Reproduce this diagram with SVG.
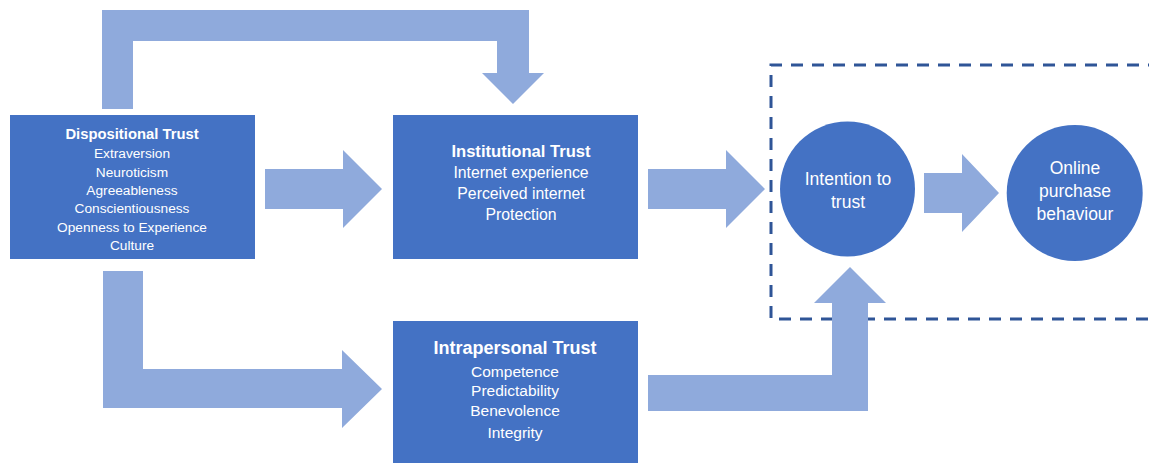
<svg xmlns="http://www.w3.org/2000/svg" width="1149" height="463" viewBox="0 0 1149 463">
<style>
.box{fill:#4472C4;}
.arr{fill:#8FAADC;}
.t{font-family:"Liberation Sans",Arial,sans-serif;fill:#FFFFFF;text-anchor:middle;}
.b{font-weight:bold;}
.dash{fill:none;stroke:#2F5597;stroke-width:3;stroke-dasharray:12 9;}
</style>
<rect width="1149" height="463" fill="#FFFFFF"/>
<g id="boundary">
<path class="dash" d="M1160,65 L771,65 L771,319 L1160,319"/>
</g>
<g id="connectors">
<polygon class="arr" points="102,109 102,10 529,10 529,73 544,73 513,104 482,73 497,73 497,41 133,41 133,109"/>
<polygon class="arr" points="103,271 143,271 143,369 342,369 342,350 382,389 342,428 342,408 103,408"/>
<polygon class="arr" points="265,169 343,169 343,150 382,189 343,228 343,209 265,209"/>
<polygon class="arr" points="648,169 726,169 726,150 765,189 726,228 726,209 648,209"/>
<polygon class="arr" points="924,173 962,173 962,154 999,193 962,232 962,213 924,213"/>
<polygon class="arr" points="648,375 832,375 832,303 814,303 850,267 886,303 868,303 868,411 648,411"/>
</g>
<g id="dispositional">
<rect class="box" x="10" y="115" width="245" height="144"/>
<text class="t b" x="132" y="139" font-size="14.8">Dispositional Trust</text>
<text class="t" x="132" y="158" font-size="13.7">Extraversion</text>
<text class="t" x="132" y="176.5" font-size="13.7">Neuroticism</text>
<text class="t" x="132" y="194.5" font-size="13.7">Agreeableness</text>
<text class="t" x="132" y="213" font-size="13.7">Conscientiousness</text>
<text class="t" x="132" y="231.5" font-size="13.7">Openness to Experience</text>
<text class="t" x="132" y="249.5" font-size="13.7">Culture</text>
</g>
<g id="institutional">
<rect class="box" x="393" y="115" width="245" height="144"/>
<text class="t b" x="521" y="157" font-size="16.6">Institutional Trust</text>
<text class="t" x="521" y="177.5" font-size="15.8">Internet experience</text>
<text class="t" x="521" y="198.5" font-size="15.8">Perceived internet</text>
<text class="t" x="521" y="219.5" font-size="15.8">Protection</text>
</g>
<g id="intrapersonal">
<rect class="box" x="393" y="321" width="245" height="150"/>
<text class="t b" x="515" y="353.5" font-size="18">Intrapersonal Trust</text>
<text class="t" x="515" y="377" font-size="15.5">Competence</text>
<text class="t" x="515" y="395.5" font-size="15.5">Predictability</text>
<text class="t" x="515" y="416" font-size="15.5">Benevolence</text>
<text class="t" x="515" y="437.5" font-size="15.5">Integrity</text>
</g>
<g id="intention">
<circle class="box" cx="847.5" cy="189" r="67.5"/>
<text class="t" x="848" y="184.5" font-size="17.5">Intention to</text>
<text class="t" x="848" y="207.5" font-size="17.5">trust</text>
</g>
<g id="purchase">
<circle class="box" cx="1074.7" cy="193" r="68"/>
<text class="t" x="1075" y="174" font-size="17.5">Online</text>
<text class="t" x="1075" y="197" font-size="17.5">purchase</text>
<text class="t" x="1075" y="220" font-size="17.5">behaviour</text>
</g>
</svg>
